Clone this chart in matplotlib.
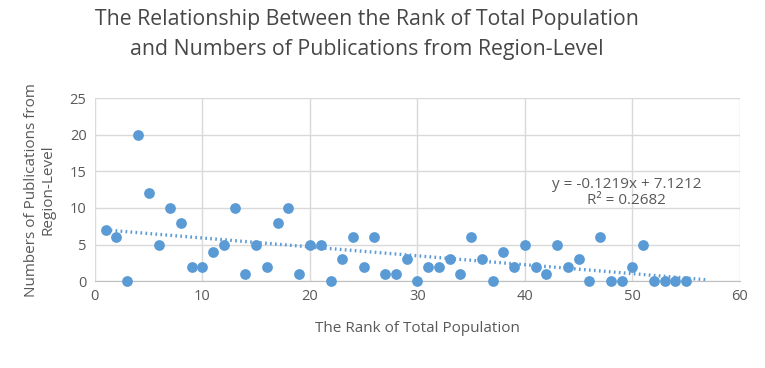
import numpy as np
import matplotlib
matplotlib.use('Agg')
import matplotlib.pyplot as plt

plt.rcParams['font.family'] = ['Open Sans', 'DejaVu Sans']

# rank of total population (x) and number of publications (y)
rank = list(range(1, 56))
pubs = [7, 6, 0, 20, 12, 5, 10, 8, 2, 2,
        4, 5, 10, 1, 5, 2, 8, 10, 1, 5,
        5, 0, 3, 6, 2, 6, 1, 1, 3, 0,
        2, 2, 3, 1, 6, 3, 0, 4, 2, 5,
        2, 1, 5, 2, 3, 0, 6, 0, 0, 2,
        5, 0, 0, 0, 0]

title = "The Relationship Between the Rank of Total Population\nand Numbers of Publications from Region-Level"
xlabel = "The Rank of Total Population"
ylabel = "Numbers of Publications from\nRegion-Level"
eq_text = "y = -0.1219x + 7.1212\nR² = 0.2682"

blue = '#5B9BD5'
grey = '#595959'
grid_c = '#D9D9D9'

fig = plt.figure(figsize=(7.65, 3.68), dpi=100)
ax = fig.add_axes([0.124, 0.236, 0.843, 0.497])

ax.scatter(rank, pubs, s=60, color=blue, zorder=3, clip_on=False, linewidths=0)

# linear trendline, extended a bit forward like Excel
k, b = np.polyfit(rank, pubs, 1)
xt = np.array([1, 57])
ax.plot(xt, k * xt + b, color=blue, lw=2.4, ls=(0, (0.5, 1.0)), zorder=2)

ax.text(49.5, 12.1, eq_text, ha='center', va='center', fontsize=11, color=grey,
        linespacing=1.15)

ax.set_xlim(0, 60)
ax.set_ylim(0, 25)
ax.set_xticks(range(0, 61, 10))
ax.set_yticks(range(0, 26, 5))
ax.grid(True, color=grid_c, lw=1)
ax.set_axisbelow(True)
for s in ['top', 'right', 'left']:
    ax.spines[s].set_visible(False)
ax.spines['bottom'].set_color('#BFBFBF')
ax.tick_params(length=0, labelsize=10.5, colors=grey, pad=6)

ax.set_xlabel(xlabel, fontsize=11, color=grey, labelpad=12)
ax.set_ylabel(ylabel, fontsize=11, color=grey, labelpad=10)

fig.suptitle(title, x=0.48, y=0.975, fontsize=15.3, color='#474747', linespacing=1.55)

fig.savefig('out.png', dpi=100)
